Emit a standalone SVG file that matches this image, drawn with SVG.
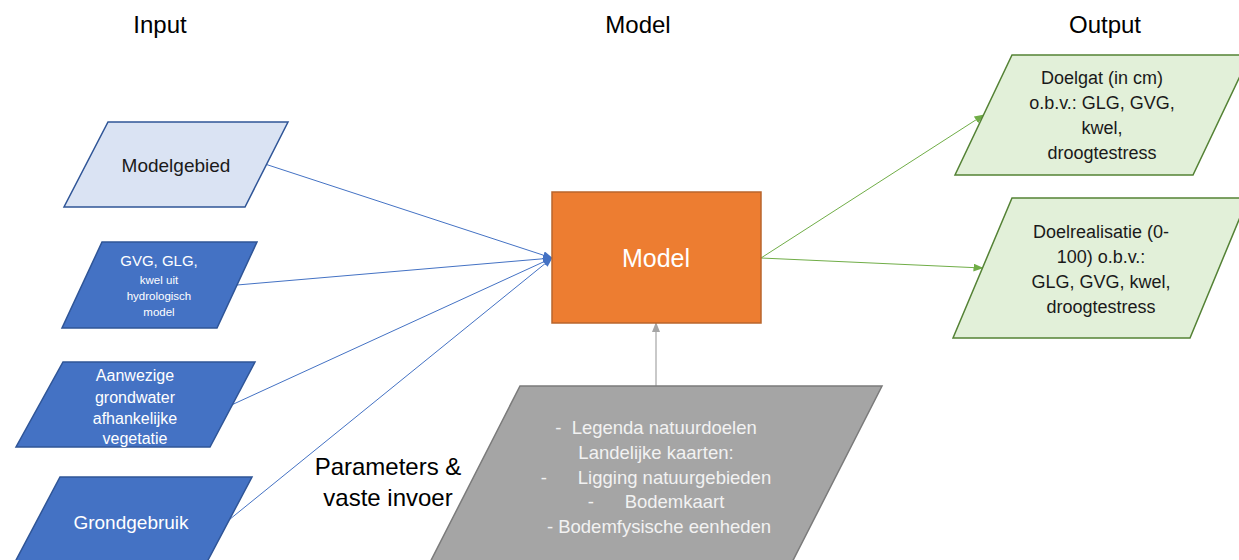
<svg xmlns="http://www.w3.org/2000/svg" width="1239" height="560" viewBox="0 0 1239 560">
  <style>
    text { font-family: "Liberation Sans", Arial, sans-serif; text-anchor: middle; dominant-baseline: central; }
    .head { font-size: 24px; fill: #000000; }
    .light { fill: #dae3f3; stroke: #2f5597; stroke-width: 1.5; }
    .blue { fill: #4472c4; stroke: #2f5597; stroke-width: 1.5; }
    .grey { fill: #a5a5a5; stroke: #7b7b7b; stroke-width: 1.5; }
    .green { fill: #e2f0d9; stroke: #548235; stroke-width: 1.5; }
    .wt { fill: #ffffff; }
    .dk { fill: #1a1a1a; }
    .gt { fill: #f2f2f2; font-size: 18.5px; }
    .c-blue { stroke: #4472c4; stroke-width: 1; fill: none; }
    .c-green { stroke: #70ad47; stroke-width: 1; fill: none; }
    .c-grey { stroke: #a5a5a5; stroke-width: 1.2; fill: none; }
  </style>
  <defs>
    <marker id="ah-blue" markerWidth="10" markerHeight="8" refX="9" refY="4" orient="auto" markerUnits="userSpaceOnUse">
      <path d="M0,0 L10,4 L0,8 Z" fill="#4472c4"/>
    </marker>
    <marker id="ah-green" markerWidth="10" markerHeight="8" refX="9" refY="4" orient="auto" markerUnits="userSpaceOnUse">
      <path d="M0,0 L10,4 L0,8 Z" fill="#70ad47"/>
    </marker>
    <marker id="ah-grey" markerWidth="10" markerHeight="8" refX="9" refY="4" orient="auto" markerUnits="userSpaceOnUse">
      <path d="M0,0 L10,4 L0,8 Z" fill="#a5a5a5"/>
    </marker>
  </defs>

  <rect width="1239" height="560" fill="#ffffff"/>

  <!-- column headings -->
  <g id="headings">
    <text class="head" x="160" y="24">Input</text>
    <text class="head" x="638" y="24">Model</text>
    <text class="head" x="1105" y="24">Output</text>
  </g>

  <!-- connectors -->
  <g id="connectors">
    <line class="c-blue" x1="266.5" y1="164.5" x2="552" y2="258" marker-end="url(#ah-blue)"/>
    <line class="c-blue" x1="237" y1="285" x2="552" y2="258" marker-end="url(#ah-blue)"/>
    <line class="c-blue" x1="232.5" y1="404.5" x2="552" y2="258" marker-end="url(#ah-blue)"/>
    <line class="c-blue" x1="229.5" y1="519.5" x2="552" y2="258" marker-end="url(#ah-blue)"/>
    <line class="c-grey" x1="656" y1="386" x2="656" y2="323" marker-end="url(#ah-grey)"/>
    <line class="c-green" x1="761" y1="258" x2="983.5" y2="115" marker-end="url(#ah-green)"/>
    <line class="c-green" x1="761" y1="258" x2="982.5" y2="268" marker-end="url(#ah-green)"/>
  </g>

  <!-- inputs -->
  <g id="modelgebied">
    <polygon class="light" points="108,122 288,122 245,207 64,207"/>
    <text x="176" y="165" font-size="19" class="dk">Modelgebied</text>
  </g>

  <g id="hydrologie">
    <polygon class="blue" points="102,242 257,242 217,328 62,328"/>
    <text x="159" y="260" font-size="15" class="wt">GVG, GLG,</text>
    <text x="159" y="280" font-size="11.5" class="wt">kwel uit</text>
    <text x="159" y="296" font-size="11.5" class="wt">hydrologisch</text>
    <text x="159" y="312" font-size="11.5" class="wt">model</text>
  </g>

  <g id="vegetatie">
    <polygon class="blue" points="63,362 255,362 210,447 16,447"/>
    <text x="135" y="375" font-size="16" class="wt">Aanwezige</text>
    <text x="135" y="397" font-size="16" class="wt">grondwater</text>
    <text x="135" y="418" font-size="16" class="wt">afhankelijke</text>
    <text x="135" y="438" font-size="16" class="wt">vegetatie</text>
  </g>

  <g id="grondgebruik">
    <polygon class="blue" points="60,477 252,477 207,562 15,562"/>
    <text x="131" y="522" font-size="19" class="wt">Grondgebruik</text>
  </g>

  <!-- model -->
  <g id="model">
    <rect x="552" y="192" width="209" height="131" fill="#ed7d31" stroke="#b9652c" stroke-width="1.5"/>
    <text x="656" y="258" font-size="25" class="wt">Model</text>
  </g>

  <!-- fixed parameters -->
  <g id="parameters">
    <polygon class="grey" points="520,386 882,386 783,580 421,580"/>
    <text x="656" y="427" class="gt" xml:space="preserve">-  Legenda natuurdoelen</text>
    <text x="656" y="452" class="gt">Landelijke kaarten:</text>
    <text x="656" y="477" class="gt" xml:space="preserve">-      Ligging natuurgebieden</text>
    <text x="656" y="501" class="gt" xml:space="preserve">-      Bodemkaart</text>
    <text x="659" y="526" class="gt">- Bodemfysische eenheden</text>
  </g>

  <g id="parameters-label">
    <text class="head" x="388" y="466">Parameters &amp;</text>
    <text class="head" x="388" y="497">vaste invoer</text>
  </g>

  <!-- outputs -->
  <g id="doelgat">
    <polygon class="green" points="1012,55 1250,55 1193,175 955,175"/>
    <text x="1102" y="78" font-size="18" class="dk">Doelgat (in cm)</text>
    <text x="1102" y="103" font-size="18" class="dk">o.b.v.: GLG, GVG,</text>
    <text x="1102" y="128" font-size="18" class="dk">kwel,</text>
    <text x="1102" y="153" font-size="18" class="dk">droogtestress</text>
  </g>

  <g id="doelrealisatie">
    <polygon class="green" points="1012,198 1248,198 1190,338 953,338"/>
    <text x="1101" y="232" font-size="18" class="dk">Doelrealisatie (0-</text>
    <text x="1101" y="257" font-size="18" class="dk">100) o.b.v.:</text>
    <text x="1101" y="282" font-size="18" class="dk">GLG, GVG, kwel,</text>
    <text x="1101" y="307" font-size="18" class="dk">droogtestress</text>
  </g>
</svg>
